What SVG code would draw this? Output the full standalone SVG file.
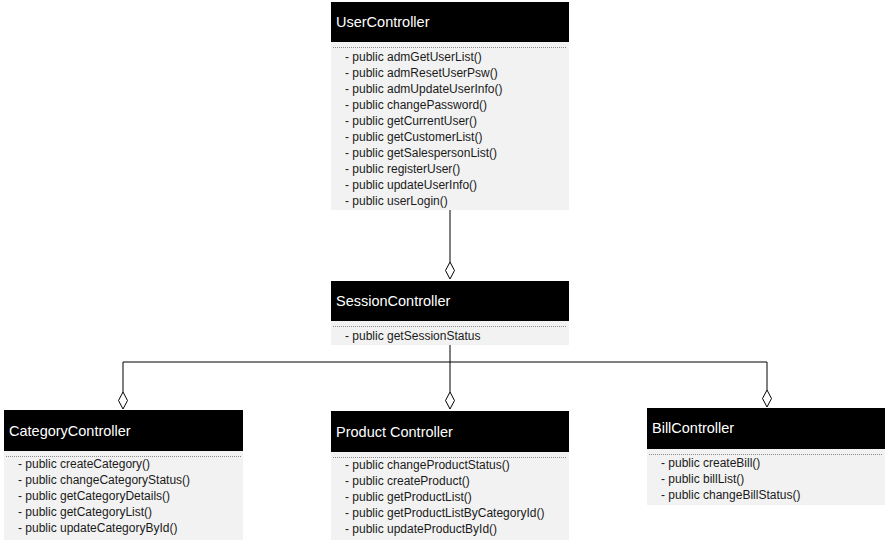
<svg xmlns="http://www.w3.org/2000/svg" width="888" height="545" viewBox="0 0 888 545">
  <style>
    .head { fill: #000; }
    .body { fill: #f2f2f2; }
    .sep { stroke: #8c8c8c; stroke-width: 1; stroke-dasharray: 1 1; fill: none; }
    .title { font-family: "Liberation Sans", Arial, sans-serif; font-size: 14.5px; fill: #fff; }
    .op { font-family: "Liberation Sans", Arial, sans-serif; font-size: 12px; fill: #1a1a1a; }
    .link { stroke: #000; stroke-width: 1; fill: none; }
    .agg { stroke: #000; stroke-width: 1; fill: #fff; }
  </style>
  <rect width="888" height="545" fill="#fff"/>

  <g id="connectors">
    <line class="link" x1="450" y1="210" x2="450" y2="262"/>
    <polygon class="agg" points="450,262 454.5,270.5 450,279 445.5,270.5"/>
    <path class="link" d="M450,345 V392 M123,392 V362 H767 V390"/>
    <polygon class="agg" points="123,392 127.5,400.5 123,409 118.5,400.5"/>
    <polygon class="agg" points="450,392 454.5,400.5 450,409 445.5,400.5"/>
    <polygon class="agg" points="767,390 771.5,398.5 767,407 762.5,398.5"/>
  </g>

  <g id="UserController">
    <rect class="body" x="331" y="42" width="238" height="168"/>
    <rect class="head" x="331" y="2" width="238" height="40"/>
    <line class="sep" x1="333" y1="47.5" x2="567" y2="47.5"/>
    <text class="title" x="336" y="27">UserController</text>
    <text class="op" x="345" y="61">- public admGetUserList()</text>
    <text class="op" x="345" y="77">- public admResetUserPsw()</text>
    <text class="op" x="345" y="93">- public admUpdateUserInfo()</text>
    <text class="op" x="345" y="109">- public changePassword()</text>
    <text class="op" x="345" y="125">- public getCurrentUser()</text>
    <text class="op" x="345" y="141">- public getCustomerList()</text>
    <text class="op" x="345" y="157">- public getSalespersonList()</text>
    <text class="op" x="345" y="173">- public registerUser()</text>
    <text class="op" x="345" y="189">- public updateUserInfo()</text>
    <text class="op" x="345" y="205">- public userLogin()</text>
  </g>

  <g id="SessionController">
    <rect class="body" x="331" y="321" width="238" height="24"/>
    <rect class="head" x="331" y="281" width="238" height="40"/>
    <line class="sep" x1="333" y1="326.5" x2="567" y2="326.5"/>
    <text class="title" x="336" y="306">SessionController</text>
    <text class="op" x="345" y="340">- public getSessionStatus</text>
  </g>

  <g id="CategoryController">
    <rect class="body" x="4" y="451" width="239" height="89"/>
    <rect class="head" x="4" y="410" width="239" height="41"/>
    <line class="sep" x1="6" y1="456.5" x2="241" y2="456.5"/>
    <text class="title" x="9" y="436">CategoryController</text>
    <text class="op" x="18" y="468">- public createCategory()</text>
    <text class="op" x="18" y="484">- public changeCategoryStatus()</text>
    <text class="op" x="18" y="500">- public getCategoryDetails()</text>
    <text class="op" x="18" y="516">- public getCategoryList()</text>
    <text class="op" x="18" y="532">- public updateCategoryById()</text>
  </g>

  <g id="ProductController">
    <rect class="body" x="331" y="452" width="238" height="88"/>
    <rect class="head" x="331" y="411" width="238" height="41"/>
    <line class="sep" x1="333" y1="457.5" x2="567" y2="457.5"/>
    <text class="title" x="336" y="437">Product Controller</text>
    <text class="op" x="345" y="469">- public changeProductStatus()</text>
    <text class="op" x="345" y="485">- public createProduct()</text>
    <text class="op" x="345" y="501">- public getProductList()</text>
    <text class="op" x="345" y="517">- public getProductListByCategoryId()</text>
    <text class="op" x="345" y="533">- public updateProductById()</text>
  </g>

  <g id="BillController">
    <rect class="body" x="647" y="449" width="238" height="56"/>
    <rect class="head" x="647" y="408" width="238" height="41"/>
    <line class="sep" x1="649" y1="454.5" x2="883" y2="454.5"/>
    <text class="title" x="652" y="433">BillController</text>
    <text class="op" x="661" y="467">- public createBill()</text>
    <text class="op" x="661" y="483">- public billList()</text>
    <text class="op" x="661" y="499">- public changeBillStatus()</text>
  </g>
</svg>
